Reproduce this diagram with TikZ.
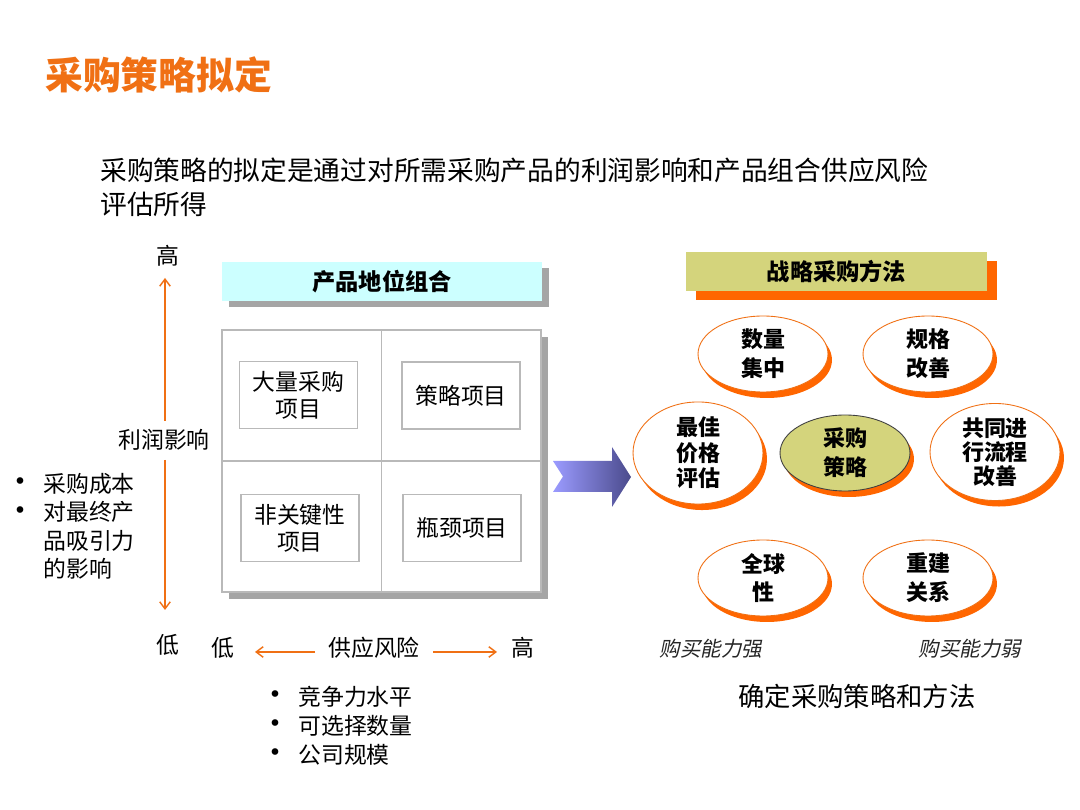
\documentclass[tikz,border=0pt]{standalone}
\usepackage{fontspec}
\setmainfont{Noto Sans CJK SC}
\newfontfamily\cjkit[FakeSlant=0.2]{Noto Sans CJK SC}
\newfontfamily\dejavu{DejaVu Sans}
\usetikzlibrary{arrows.meta,shapes.geometric,shadows}
\definecolor{orng}{RGB}{240,112,20}
\definecolor{shad}{RGB}{255,102,0}
\definecolor{olivebox}{RGB}{212,212,124}
\definecolor{cyanbox}{RGB}{204,255,255}
\definecolor{gridgray}{RGB}{185,185,185}
\definecolor{shadgray}{RGB}{165,165,165}
\definecolor{arrlight}{RGB}{155,155,255}
\definecolor{arrdark}{RGB}{75,75,140}
\begin{document}
\begin{tikzpicture}[x=0.02cm,y=-0.02cm,
  txt/.style={inner sep=0pt, align=center, font=\fontsize{13}{16.3}\selectfont},
  bul/.style={inner sep=0pt, font=\dejavu\fontsize{13}{16}\selectfont},
  bigtxt/.style={inner sep=0pt, align=left, font=\fontsize{15.2}{19.3}\selectfont},
  hdr/.style={inner sep=0pt, font=\bfseries\fontsize{13.2}{16}\selectfont, minimum height=0.78cm},
  cell/.style={draw=gridgray, line width=0.9pt, fill=white, minimum width=2.36cm, minimum height=1.34cm, inner sep=0pt, align=center, font=\fontsize{13}{15.3}\selectfont},
  oval/.style={ellipse, draw=orng, line width=0.5pt, fill=white, minimum width=2.6cm, minimum height=1.52cm, inner sep=0pt, align=center, font=\bfseries\fontsize{12.5}{16.4}\selectfont,
    drop shadow={shadow xshift=0.08cm, shadow yshift=-0.12cm, opacity=1, fill=shad}},
  axarr/.style={draw=orng, line width=0.8pt, -{Straight Barb[length=4pt,width=6pt]}},
  itl/.style={inner sep=0pt, font=\cjkit\fontsize{11.7}{14}\selectfont, text=black!85}
]
\useasboundingbox[fill=white] (0,0) rectangle (1080,810);

% title and intro
\node[inner sep=0pt, anchor=west, text=orng, font=\bfseries\fontsize{21.5}{24}\selectfont] (title) at (45,75) {采购策略拟定};
\node[bigtxt, anchor=west] (intro) at (100,187) {采购策略的拟定是通过对所需采购产品的利润影响和产品组合供应风险\\评估所得};

% left header
\node[hdr, fill=cyanbox, minimum width=6.4cm, drop shadow={shadow xshift=0.14cm, shadow yshift=-0.12cm, opacity=1, fill=shadgray}] (lhdr) at (382,281.5) {产品地位组合};

% grid
\node[draw=gridgray, line width=0.9pt, fill=white, minimum width=6.38cm, minimum height=5.24cm, inner sep=0pt,
  drop shadow={shadow xshift=0.14cm, shadow yshift=-0.14cm, opacity=1, fill=shadgray}] (grid) at (381.5,461) {};
\draw[gridgray, line width=0.9pt] (grid.north) -- (grid.south);
\draw[gridgray, line width=0.9pt] (grid.west) -- (grid.east);
\node[cell] (tl) at (298.5,395) {大量采购\\项目};
\node[cell] (tr) at (461,395.5) {策略项目};
\node[cell] (bl) at (300,528) {非关键性\\项目};
\node[cell] (br) at (462,528) {瓶颈项目};

% vertical axis
\node[txt] (vhigh) at (168,256) {高};
\node[txt] (vlow) at (168,645) {低};
\node[txt] (vlab) at (164,440) {利润影响};
\coordinate (vtop) at (165,278);
\coordinate (vup) at (165,421);
\coordinate (vdn) at (165,460);
\coordinate (vbot) at (165,610);
\draw[axarr] (vup) -- (vtop);
\draw[axarr] (vdn) -- (vbot);

% left bullets
\node[bul] (lb1) at (20,484) {•};
\node[bul] (lb2) at (20,513) {•};
\node[txt, anchor=west] (ll1) at (43,484) {采购成本};
\node[txt, anchor=north west, align=left] (ll2) at (43,501) {对最终产\\品吸引力\\的影响};

% horizontal axis
\node[txt] (hlow) at (223,648) {低};
\node[txt] (hlab) at (374,648) {供应风险};
\node[txt] (hhigh) at (523,648) {高};
\coordinate (hl1) at (315,652);
\coordinate (hl2) at (255,652);
\coordinate (hr1) at (433,652);
\coordinate (hr2) at (497,652);
\draw[axarr] (hl1) -- (hl2);
\draw[axarr] (hr1) -- (hr2);

% bottom bullets
\node[bul] (bb1) at (275,697) {•};
\node[bul] (bb2) at (275,726) {•};
\node[bul] (bb3) at (275,755) {•};
\node[txt, anchor=west] (bt1) at (298,697) {竞争力水平};
\node[txt, anchor=west] (bt2) at (298,726) {可选择数量};
\node[txt, anchor=west] (bt3) at (298,755) {公司规模};

% big blue arrow
\shade[left color=arrlight, right color=arrdark]
  (553,461) -- (612,461) -- (612,447) -- (631,477) -- (612,507) -- (612,492) -- (553,492) -- (563,476.5) -- cycle;

% right header
\node[hdr, fill=olivebox, minimum width=6.02cm, drop shadow={shadow xshift=0.2cm, shadow yshift=-0.18cm, opacity=1, fill=shad}] (rhdr) at (836.5,271.5) {战略采购方法};

% ovals
\node[oval] (o1) at (763,354) {数量\\集中};
\node[oval] (o2) at (928,354) {规格\\改善};
\node[oval, font=\bfseries\fontsize{12.5}{14.6}\selectfont] (o3) at (698,453) {最佳\\价格\\评估};
\node[oval, draw=black!75, fill=olivebox] (o4) at (845,453) {采购\\策略};
\node[oval, font=\bfseries\fontsize{12.5}{13.6}\selectfont] (o5) at (995,452) {共同进\\行流程\\改善};
\node[oval] (o6) at (763,578) {全球\\性};
\node[oval] (o7) at (928,578) {重建\\关系};

% labels
\node[itl] (strong) at (711,649) {购买能力强};
\node[itl] (weak) at (970,649) {购买能力弱};
\node[inner sep=0pt, font=\fontsize{15}{18}\selectfont] (concl) at (857,696) {确定采购策略和方法};
\end{tikzpicture}
\end{document}
